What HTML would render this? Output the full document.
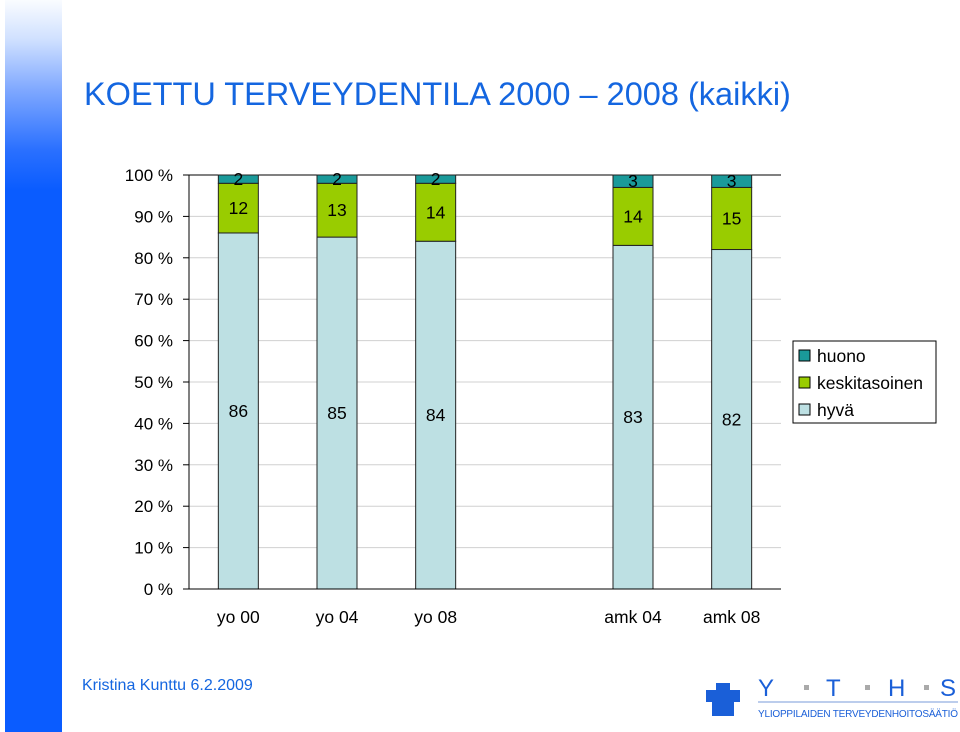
<!DOCTYPE html>
<html><head><meta charset="utf-8"><style>
body{margin:0;width:960px;height:732px;background:#fff;overflow:hidden;font-family:"Liberation Sans",sans-serif;position:relative}
#side{position:absolute;left:5px;top:0;width:57px;height:732px;background:linear-gradient(#fafcff 0px,#cfe0ff 40px,#7fa8ff 90px,#2a70ff 150px,#0a5cff 190px,#0a5cff 732px)}
#title{position:absolute;left:84px;top:76px;font-size:32.5px;color:#1466e0}
#footer{position:absolute;left:82px;top:677px;font-size:16px;color:#1466e0}
</style></head><body>
<div id="side"></div>
<div id="title">KOETTU TERVEYDENTILA 2000 – 2008 (kaikki)</div>
<svg id="chart" width="960" height="732" style="position:absolute;left:0;top:0"></svg>
<div id="footer">Kristina Kunttu 6.2.2009</div>
<svg width="260" height="60" style="position:absolute;left:700px;top:670px">
<rect x="16" y="13" width="14" height="26" fill="#1a5fd8"/><rect x="6" y="20" width="34" height="12" fill="#1a5fd8"/>
<rect x="12" y="30" width="22" height="16" fill="#1a5fd8"/>
<text x="58" y="26" font-size="24" fill="#1a5fd8" font-family="Liberation Sans">Y</text>
<text x="126" y="26" font-size="24" fill="#1a5fd8" font-family="Liberation Sans">T</text>
<text x="188" y="26" font-size="24" fill="#1a5fd8" font-family="Liberation Sans">H</text>
<text x="240" y="26" font-size="24" fill="#1a5fd8" font-family="Liberation Sans">S</text>
<rect x="104" y="15" width="5" height="5" fill="#aaa"/><rect x="165" y="15" width="5" height="5" fill="#aaa"/><rect x="224" y="15" width="5" height="5" fill="#aaa"/>
<line x1="58" y1="32" x2="258" y2="32" stroke="#7a9bd8"/>
<text x="58" y="47" font-size="10" fill="#1a5fd8" font-family="Liberation Sans" textLength="200">YLIOPPILAIDEN TERVEYDENHOITOSÄÄTIÖ</text>
</svg>
<script>
const categories=["yo 00","yo 04","yo 08","","amk 04","amk 08"];
const hyva=[86,85,84,null,83,82];
const keski=[12,13,14,null,14,15];
const huono=[2,2,2,null,3,3];
const ticks=[0,10,20,30,40,50,60,70,80,90,100];
const NS="http://www.w3.org/2000/svg";
const svg=document.getElementById('chart');
const x0=189,x1=781,yb=589,yt=175,bw=40;
const slot=(x1-x0)/categories.length;
const y=v=>yb-(v/100)*(yb-yt);
const xc=i=>x0+slot*(i+0.5);
function mk(t,a){const e=document.createElementNS(NS,t);for(const k in a)e.setAttribute(k,a[k]);svg.appendChild(e);return e;}
ticks.forEach(t=>{
 if(t>0&&t<100){const g=mk('line',{x1:x0,x2:x1,y1:y(t),y2:y(t),stroke:'#d0d0d0'});
 
 }
 const tk=mk('line',{x1:x0-6,x2:x0,y1:y(t),y2:y(t),stroke:'#000'});
 
 
 const l=mk('text',{x:173,y:y(t)+6,'text-anchor':'end','font-size':17});l.textContent=t+' %';
 
 
});
const tl=mk('line',{x1:x0,x2:x1,y1:yt,y2:yt,stroke:'#000'});


const series=[[hyva,'#bde0e3','hyva'],[keski,'#99cc00','keskitasoinen'],[huono,'#1a9a9a','huono']];
categories.forEach((c,i)=>{
 if(hyva[i]!=null){
 let base=0;
 series.forEach(([arr,col,nm])=>{
  const v=arr[i];
  const r=mk('rect',{x:xc(i)-bw/2,y:y(base+v),width:bw,height:y(base)-y(base+v),fill:col,stroke:'#222','stroke-width':1});
  
  
  const t=mk('text',{x:xc(i),y:y(base+v/2)+6,'text-anchor':'middle','font-size':17.5});t.textContent=v;
  
  
  base+=v;
 });}
 const l=mk('text',{x:xc(i),y:623,'text-anchor':'middle','font-size':17.5});l.textContent=c;
 
 
});
const ax=mk('line',{x1:x0,x2:x0,y1:yt,y2:yb,stroke:'#000'});


const bx=mk('line',{x1:x0,x2:x1,y1:yb,y2:yb,stroke:'#000'});


const lg=mk('rect',{x:793,y:341,width:143,height:82,fill:'#fff',stroke:'#000'});


[['huono','#1a9a9a'],['keskitasoinen','#99cc00'],['hyvä','#bde0e3']].forEach(([n,c],k)=>{
 const s=mk('rect',{x:799,y:350+k*27,width:11,height:11,fill:c,stroke:'#000'});
 
 
 const t=mk('text',{x:817,y:362+k*27,'font-size':17.5});t.textContent=n;
 
 
});
</script>
</body></html>
